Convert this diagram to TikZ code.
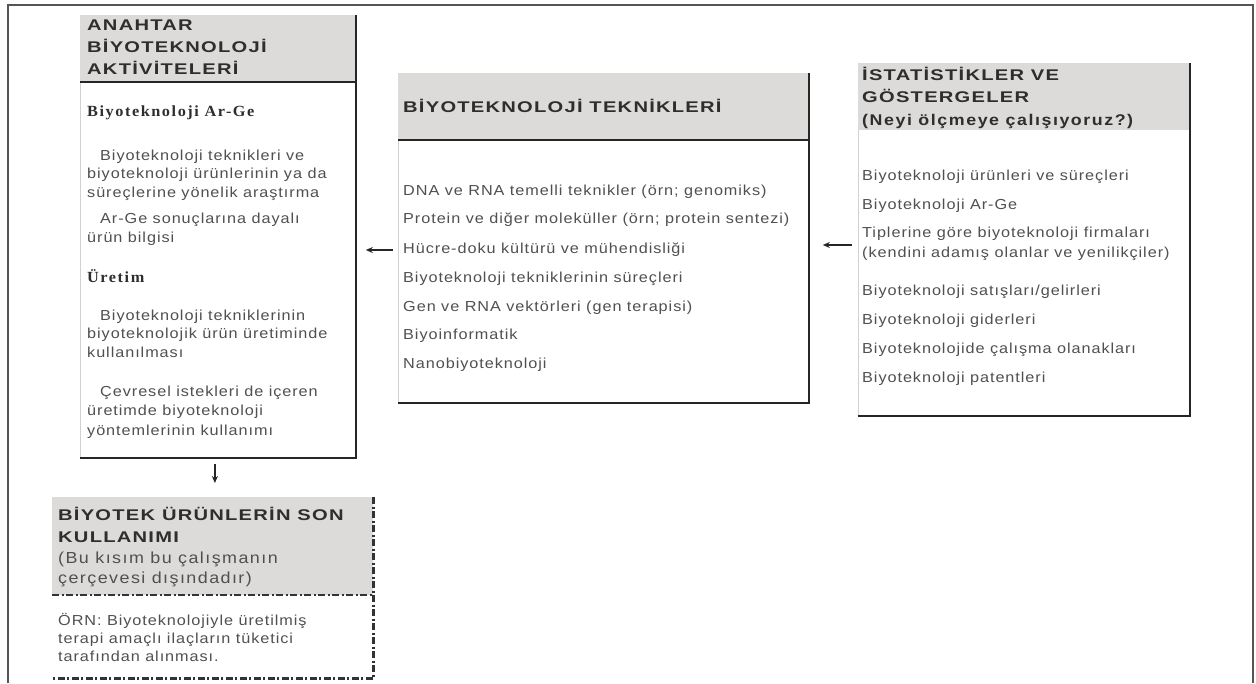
\documentclass[tikz,border=0pt]{standalone}
\usepackage{fontspec}
\usetikzlibrary{arrows.meta}
\newfontfamily\bodyfam{Liberation Sans}[LetterSpace=6.5,FakeStretch=1.12]
\newfontfamily\bodyfamr{Liberation Sans}[LetterSpace=9,FakeStretch=1.12]
\newfontfamily\headfam{Liberation Sans}[LetterSpace=8,FakeStretch=1.3]
\newfontfamily\headfamb{Liberation Sans}[LetterSpace=10,FakeStretch=1.15]
\newfontfamily\serfam{Liberation Serif}[LetterSpace=10,FakeStretch=1.05]
\definecolor{hdfill}{HTML}{DDDBD9}
\definecolor{bodygray}{HTML}{505050}
\definecolor{hdgray}{HTML}{2E2E2E}
\definecolor{framegray}{HTML}{555555}
\tikzset{
  boxn/.style={draw=black!18, line width=0.8pt, fill=white, inner sep=0pt, anchor=north west},
  dk/.style={line width=2.4pt, black!85},
  dd/.style={line width=2.2pt, black!80, dash pattern=on 7pt off 2.5pt on 2pt off 2.5pt},
  txt/.style={anchor=base west, inner sep=0pt, text=bodygray, font=\bodyfam\fontsize{14.5}{17}\selectfont},
  hd/.style={anchor=base west, inner sep=0pt, text=hdgray, font=\headfam\bfseries\fontsize{15.5}{18}\selectfont},
  hdb/.style={anchor=base west, inner sep=0pt, text=hdgray, font=\headfamb\bfseries\fontsize{15.5}{18}\selectfont},
  hdr/.style={anchor=base west, inner sep=0pt, text=bodygray, font=\bodyfamr\fontsize{16}{19}\selectfont},
  ser/.style={anchor=base west, inner sep=0pt, text=hdgray, font=\serfam\bfseries\fontsize{15.5}{18}\selectfont},
  arr/.style={line width=1.4pt, black!85, -{Stealth[length=7pt,width=6pt]}}
}
\begin{document}
\begin{tikzpicture}[x=1pt,y=-1pt]
\useasboundingbox (0,0) rectangle (1256,683);
\fill[white] (0,0) rectangle (1256,683);
% outer frame
\draw[line width=2pt, framegray] (8,683) -- (8,5) -- (1253,5) -- (1253,683);

% ---------- left box ----------
\node[boxn, minimum width=275pt, minimum height=442pt] (lbox) at (80,15) {};
\fill[hdfill] (lbox.north west) rectangle ([yshift=-67pt]lbox.north east);
\draw[dk] ([yshift=-67pt]lbox.north west) -- ([yshift=-67pt]lbox.north east);
\draw[dk] (lbox.north east) -- (lbox.south east) -- (lbox.south west);
\node[hd] (l1) at (87,30) {ANAHTAR};
\node[hd] (l2) at (87,52) {BİYOTEKNOLOJİ};
\node[hd] (l3) at (87,74) {AKTİVİTELERİ};
\node[ser] (l4) at (87,116) {Biyoteknoloji Ar-Ge};
\node[txt] (l5) at (100,160) {Biyoteknoloji teknikleri ve};
\node[txt] (l6) at (87,178) {biyoteknoloji ürünlerinin ya da};
\node[txt] (l7) at (87,197) {süreçlerine yönelik araştırma};
\node[txt] (l8) at (100,223) {Ar-Ge sonuçlarına dayalı};
\node[txt] (l9) at (87,242) {ürün bilgisi};
\node[ser] (l10) at (87,282) {Üretim};
\node[txt] (l11) at (100,320) {Biyoteknoloji tekniklerinin};
\node[txt] (l12) at (87,338) {biyoteknolojik ürün üretiminde};
\node[txt] (l13) at (87,357) {kullanılması};
\node[txt] (l14) at (100,396) {Çevresel istekleri de içeren};
\node[txt] (l15) at (87,415) {üretimde biyoteknoloji};
\node[txt] (l16) at (87,435) {yöntemlerinin kullanımı};

% ---------- middle box ----------
\node[boxn, minimum width=410pt, minimum height=329pt] (mbox) at (398,73) {};
\fill[hdfill] (mbox.north west) rectangle ([yshift=-67pt]mbox.north east);
\draw[dk] ([yshift=-67pt]mbox.north west) -- ([yshift=-67pt]mbox.north east);
\draw[dk] (mbox.north east) -- (mbox.south east) -- (mbox.south west);
\node[hd] (m0) at (403,112) {BİYOTEKNOLOJİ TEKNİKLERİ};
\node[txt] (m1) at (403,195) {DNA ve RNA temelli teknikler (örn; genomiks)};
\node[txt] (m2) at (403,223) {Protein ve diğer moleküller (örn; protein sentezi)};
\node[txt] (m3) at (403,253) {Hücre-doku kültürü ve mühendisliği};
\node[txt] (m4) at (403,282) {Biyoteknoloji tekniklerinin süreçleri};
\node[txt] (m5) at (403,311) {Gen ve RNA vektörleri (gen terapisi)};
\node[txt] (m6) at (403,339) {Biyoinformatik};
\node[txt] (m7) at (403,368) {Nanobiyoteknoloji};

% ---------- right box ----------
\node[boxn, minimum width=331pt, minimum height=352pt] (rbox) at (858,63) {};
\fill[hdfill] (rbox.north west) rectangle ([yshift=-67pt]rbox.north east);
\draw[dk] (rbox.north east) -- (rbox.south east) -- (rbox.south west);
\node[hd] (r1) at (862,80) {İSTATİSTİKLER VE};
\node[hd] (r2) at (862,102) {GÖSTERGELER};
\node[hdb] (r3) at (862,125) {(Neyi ölçmeye çalışıyoruz?)};
\node[txt] (r4) at (862,180) {Biyoteknoloji ürünleri ve süreçleri};
\node[txt] (r5) at (862,209) {Biyoteknoloji Ar-Ge};
\node[txt] (r6) at (862,237) {Tiplerine göre biyoteknoloji firmaları};
\node[txt] (r7) at (862,257) {(kendini adamış olanlar ve yenilikçiler)};
\node[txt] (r8) at (862,295) {Biyoteknoloji satışları/gelirleri};
\node[txt] (r9) at (862,324) {Biyoteknoloji giderleri};
\node[txt] (r10) at (862,353) {Biyoteknolojide çalışma olanakları};
\node[txt] (r11) at (862,382) {Biyoteknoloji patentleri};

% ---------- bottom box ----------
\node[inner sep=0pt, minimum width=321pt, minimum height=181pt, anchor=north west, fill=white] (bbox) at (52,497) {};
\fill[hdfill] (bbox.north west) rectangle ([yshift=-98pt]bbox.north east);
\draw[dd] ([yshift=-98pt]bbox.north west) -- ([yshift=-98pt]bbox.north east);
\draw[dd] (bbox.north east) -- (bbox.south east) -- (bbox.south west);
\node[hd] (b1) at (58,520) {BİYOTEK ÜRÜNLERİN SON};
\node[hd] (b2) at (58,542) {KULLANIMI};
\node[hdr] (b3) at (58,563) {(Bu kısım bu çalışmanın};
\node[hdr] (b4) at (58,583) {çerçevesi dışındadır)};
\node[txt] (b5) at (58,625) {ÖRN: Biyoteknolojiyle üretilmiş};
\node[txt] (b6) at (58,643) {terapi amaçlı ilaçların tüketici};
\node[txt] (b7) at (58,661) {tarafından alınması.};

% ---------- arrows ----------
\coordinate (ya) at (0,250);
\coordinate (yb) at (0,245);
\draw[arr, shorten <=5pt, shorten >=10pt] (mbox.west |- ya) -- (lbox.east |- ya);
\draw[arr, shorten <=6pt, shorten >=14pt] (rbox.west |- yb) -- (mbox.east |- yb);
\draw[arr, shorten <=6pt, shorten >=14pt] ([xshift=-3pt]lbox.south) -- ([xshift=-3pt]lbox.south |- bbox.north);
\end{tikzpicture}
\end{document}
